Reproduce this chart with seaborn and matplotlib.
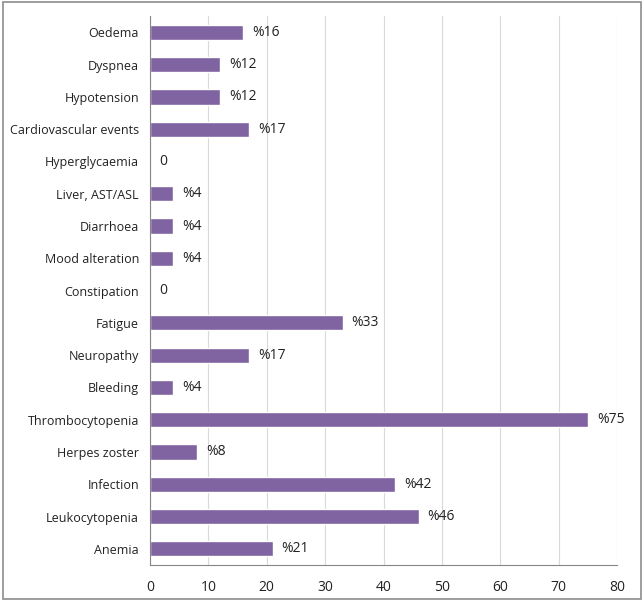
import pandas as pd
import seaborn as sns
import matplotlib.pyplot as plt
from matplotlib.patches import Rectangle

events = ["Oedema", "Dyspnea", "Hypotension", "Cardiovascular events",
          "Hyperglycaemia", "Liver, AST/ASL", "Diarrhoea", "Mood alteration",
          "Constipation", "Fatigue", "Neuropathy", "Bleeding",
          "Thrombocytopenia", "Herpes zoster", "Infection", "Leukocytopenia",
          "Anemia"]
percent = [16, 12, 12, 17, 0, 4, 4, 4, 0, 33, 17, 4, 75, 8, 42, 46, 21]
labels = ["%16", "%12", "%12", "%17", "0", "%4", "%4", "%4", "0", "%33",
          "%17", "%4", "%75", "%8", "%42", "%46", "%21"]

df = pd.DataFrame({"event": events, "percent": percent})

sns.set_style("white")
plt.rcParams["font.family"] = ["Open Sans", "DejaVu Sans"]

fig = plt.figure(figsize=(6.44, 6.01), dpi=100)
ax = fig.add_axes([0.233, 0.06, 0.725, 0.913])

sns.barplot(data=df, x="percent", y="event", order=events, color="#8064A2",
            width=0.47, saturation=1, ax=ax)

for i, (v, lab) in enumerate(zip(percent, labels)):
    ax.annotate(lab, (v, i), xytext=(6.5, 0), textcoords="offset points",
                va="center", ha="left", fontsize=10, color="#222222")

ax.set_xlim(0, 80)
ax.set_xticks(range(0, 81, 10))
ax.set_ylim(len(events) - 0.5, -0.5)
ax.set_xlabel("")
ax.set_ylabel("")
ax.xaxis.grid(True, color="#d9d9d9", linewidth=0.8)
ax.set_axisbelow(True)
for s in ["top", "right"]:
    ax.spines[s].set_visible(False)
for s in ["left", "bottom"]:
    ax.spines[s].set_color("#868686")
    ax.spines[s].set_linewidth(0.8)

# category ticks sit between the bars, as in Excel
ax.set_yticks(range(len(events)))
ax.set_yticklabels(events, fontsize=9, color="#222222")
ax.tick_params(axis="y", length=0, pad=8)
ax.set_yticks([i + 0.5 for i in range(-1, len(events))], minor=True)
ax.tick_params(axis="y", which="minor", length=5, color="#868686", direction="out")
ax.tick_params(axis="x", length=5, color="#868686", labelsize=10,
               labelcolor="#222222", pad=6)

fig.patches.append(Rectangle((0.004, 0.004), 0.992, 0.992, transform=fig.transFigure,
                             fill=False, edgecolor="#8c8c8c", linewidth=1.2))

fig.savefig("out.png", dpi=100)
